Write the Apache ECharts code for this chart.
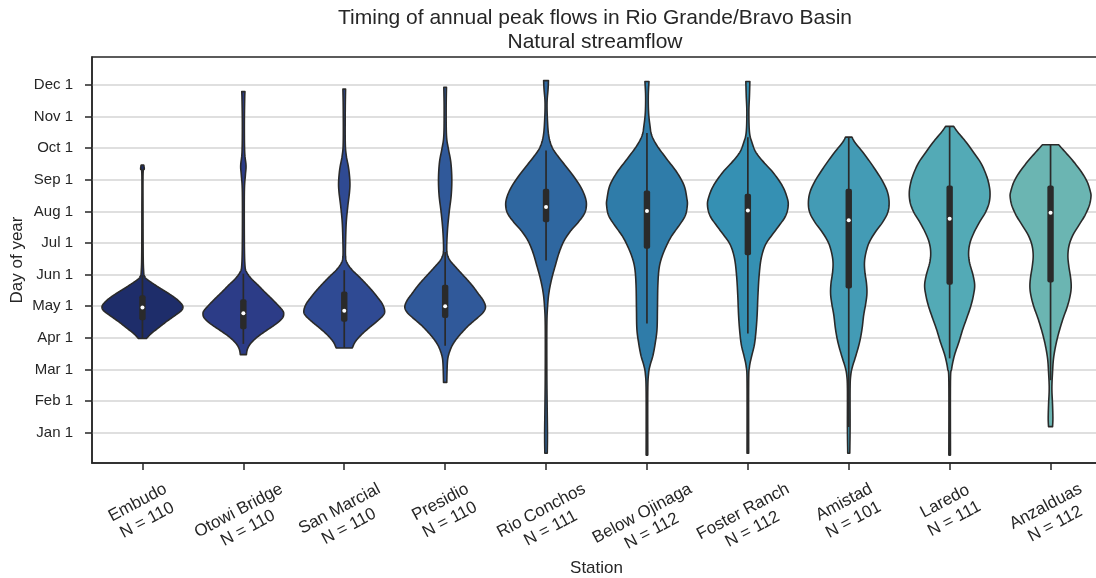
<!DOCTYPE html>
<html>
<head>
<meta charset="utf-8">
<script src="https://cdn.jsdelivr.net/npm/echarts@6/dist/echarts.min.js"></script>
<style>
html,body{margin:0;padding:0;background:#fff;}
#chart{width:1096px;height:578px;}
</style>
</head>
<body>
<div id="chart"></div>
<script>
// ---------------- data ----------------
const stations = ['Embudo','Otowi Bridge','San Marcial','Presidio','Rio Conchos','Below Ojinaga','Foster Ranch','Amistad','Laredo','Anzalduas'];
const counts = [110,110,110,110,111,112,112,101,111,112];
const monthLabels = ['Jan 1','Feb 1','Mar 1','Apr 1','May 1','Jun 1','Jul 1','Aug 1','Sep 1','Oct 1','Nov 1','Dec 1'];
const monthTicks = [0,1,2,3,4,5,6,7,8,9,10,11];

// violin outlines: [month position (Jan 1 = 0), relative half-width], top to bottom
const embudo = [[8.47,0.03],[8.34,0.045],[8.2,0.015],[7.0,0.014],[5.6,0.018],[5.1,0.03],[4.98,0.045],[4.89,0.08],[4.77,0.2],[4.61,0.39],[4.45,0.59],[4.29,0.78],[4.14,0.92],[4.0,1.0],[3.87,0.97],[3.72,0.82],[3.51,0.59],[3.29,0.37],[3.14,0.22],[2.98,0.1]];
const otowiBridge = [[10.79,0.04],[10.56,0.033],[9.72,0.025],[8.87,0.033],[8.45,0.066],[8.14,0.05],[7.61,0.025],[6.03,0.025],[5.29,0.04],[5.08,0.08],[4.87,0.2],[4.66,0.37],[4.45,0.53],[4.24,0.7],[4.03,0.86],[3.87,0.97],[3.77,1.0],[3.63,0.97],[3.45,0.82],[3.24,0.58],[3.03,0.35],[2.82,0.18],[2.64,0.1],[2.47,0.075]];
const sanMarcial = [[10.87,0.033],[10.24,0.025],[9.19,0.025],[8.77,0.05],[8.35,0.11],[7.93,0.14],[7.61,0.13],[7.19,0.09],[6.66,0.05],[6.03,0.033],[5.56,0.033],[5.35,0.08],[5.14,0.2],[4.93,0.37],[4.72,0.53],[4.51,0.68],[4.29,0.82],[4.08,0.94],[3.87,1.0],[3.72,0.97],[3.51,0.8],[3.29,0.59],[3.08,0.41],[2.87,0.27],[2.68,0.2]];
const presidio = [[10.93,0.033],[10.24,0.025],[9.4,0.033],[8.98,0.08],[8.56,0.14],[8.03,0.165],[7.51,0.15],[6.98,0.1],[6.45,0.06],[5.93,0.04],[5.66,0.05],[5.45,0.12],[5.24,0.26],[5.03,0.41],[4.82,0.56],[4.61,0.7],[4.4,0.82],[4.19,0.94],[3.98,1.0],[3.8,0.94],[3.61,0.78],[3.4,0.59],[3.19,0.43],[2.98,0.29],[2.77,0.18],[2.56,0.11],[2.35,0.066],[2.08,0.05],[1.59,0.04]];
const rioConchos = [[11.14,0.06],[10.87,0.05],[10.45,0.025],[9.93,0.033],[9.4,0.066],[9.03,0.15],[8.72,0.31],[8.4,0.51],[8.08,0.7],[7.77,0.86],[7.45,0.97],[7.19,1.0],[6.93,0.95],[6.66,0.8],[6.4,0.62],[6.08,0.45],[5.72,0.33],[5.29,0.23],[4.87,0.14],[4.45,0.074],[4.03,0.04],[3.4,0.02],[1.82,0.02],[0.77,0.028],[-0.07,0.035],[-0.65,0.03]];
const belowOjinaga = [[11.11,0.05],[10.66,0.033],[10.14,0.04],[9.72,0.074],[9.4,0.12],[9.08,0.25],[8.66,0.49],[8.24,0.74],[7.82,0.92],[7.4,0.99],[7.19,1.0],[6.87,0.95],[6.56,0.8],[6.24,0.62],[5.93,0.49],[5.56,0.37],[5.19,0.3],[4.66,0.27],[3.93,0.26],[3.29,0.25],[2.87,0.21],[2.45,0.15],[2.14,0.08],[1.87,0.04],[1.29,0.02],[-0.71,0.02]];
const fosterRanch = [[11.11,0.05],[10.66,0.04],[10.14,0.025],[9.51,0.04],[9.19,0.1],[8.87,0.2],[8.56,0.39],[8.24,0.62],[7.82,0.85],[7.45,0.97],[7.19,1.0],[6.87,0.94],[6.56,0.78],[6.24,0.59],[5.93,0.43],[5.51,0.33],[4.98,0.28],[4.35,0.25],[3.72,0.23],[3.19,0.2],[2.77,0.16],[2.4,0.09],[2.08,0.04],[1.61,0.02],[-0.65,0.02]];
const amistad = [[9.35,0.08],[9.19,0.15],[8.87,0.35],[8.56,0.53],[8.24,0.7],[7.93,0.85],[7.61,0.96],[7.29,1.0],[6.98,0.97],[6.66,0.84],[6.35,0.66],[6.03,0.51],[5.72,0.43],[5.4,0.39],[5.08,0.4],[4.72,0.44],[4.4,0.45],[4.08,0.42],[3.72,0.37],[3.29,0.33],[2.87,0.27],[2.45,0.18],[2.08,0.09],[1.82,0.05],[1.4,0.033],[0.14,0.033],[-0.65,0.025]];
const laredo = [[9.69,0.1],[9.51,0.2],[9.19,0.41],[8.87,0.59],[8.56,0.76],[8.24,0.88],[7.93,0.96],[7.61,1.0],[7.29,0.98],[6.98,0.89],[6.66,0.74],[6.35,0.61],[6.03,0.51],[5.72,0.47],[5.4,0.49],[4.98,0.58],[4.66,0.62],[4.35,0.59],[4.03,0.53],[3.72,0.45],[3.29,0.33],[2.87,0.23],[2.45,0.12],[2.03,0.05],[1.61,0.02],[-0.71,0.02]];
const anzalduas = [[9.11,0.2],[8.87,0.37],[8.56,0.58],[8.24,0.77],[7.93,0.91],[7.61,0.99],[7.45,1.0],[7.19,0.96],[6.87,0.85],[6.56,0.7],[6.24,0.55],[5.93,0.46],[5.61,0.43],[5.29,0.45],[4.87,0.5],[4.56,0.51],[4.24,0.47],[3.93,0.4],[3.61,0.31],[3.19,0.21],[2.77,0.13],[2.35,0.074],[1.93,0.05],[1.4,0.033],[0.87,0.05],[0.45,0.058],[0.19,0.05]];
const profiles = [embudo, otowiBridge, sanMarcial, presidio, rioConchos, belowOjinaga, fosterRanch, amistad, laredo, anzalduas];

// inner box statistics (month positions)
const whiskerLow  = [2.98,2.81,2.68,2.75,5.45,3.45,3.14,0.18,2.35,1.66];
const quart1      = [3.56,3.27,3.51,3.63,6.66,5.82,5.61,4.56,4.68,4.75];
const medians     = [3.96,3.78,3.86,4.00,7.14,7.01,7.03,6.72,6.77,6.96];
const quart3      = [4.35,4.22,4.47,4.68,7.72,7.66,7.56,7.72,7.82,7.82];
const whiskerHigh = [4.98,5.03,5.14,5.72,8.93,9.48,9.35,9.35,9.69,9.11];

// ---------------- styles ----------------
const palette = ['#1e2d6a','#2c3c87','#2f4a93','#30599a','#2f67a0','#2f7ca9','#3590b3','#439bb5','#53aab6','#6bb5b2'];
const FONT = '"Liberation Sans", Arial, Helvetica, sans-serif';
const INK = '#262626';
const OUTLINE = '#2a2a2a';
const Y_MIN = -0.96, Y_MAX = 11.886;
const LABEL_FS = 17, LABEL_LH = 20, LABEL_ROT = 28 * Math.PI / 180, LABEL_TOP_GAP = 16;

function catmull(pts, seg) {
  const out = [];
  for (let k = 0; k < pts.length - 1; k++) {
    const p0 = pts[Math.max(k - 1, 0)], p1 = pts[k], p2 = pts[k + 1], p3 = pts[Math.min(k + 2, pts.length - 1)];
    for (let s = 0; s < seg; s++) {
      const t = s / seg, t2 = t * t, t3 = t2 * t;
      out.push([0, 1].map(d => 0.5 * ((2 * p1[d]) + (-p0[d] + p2[d]) * t +
        (2 * p0[d] - 5 * p1[d] + 4 * p2[d] - p3[d]) * t2 +
        (-p0[d] + 3 * p1[d] - 3 * p2[d] + p3[d]) * t3)));
    }
  }
  out.push(pts[pts.length - 1].slice());
  return out;
}

function renderViolin(params, api) {
  const i = api.value(0);
  const band = api.size([1, 0])[0];
  const half = band * 0.4;
  const cx = api.coord([i, 0])[0];
  const raw = profiles[i].map(([v, w]) => [cx + w * half, api.coord([i, v])[1]]);
  const right = catmull(raw, 8).map(([x, y]) => [Math.max(x, cx + 0.3), y]);
  const left = right.map(([x, y]) => [2 * cx - x, y]).reverse();
  const yLo = api.coord([i, whiskerLow[i]])[1];
  const yHi = api.coord([i, whiskerHigh[i]])[1];
  const yQ1 = api.coord([i, quart1[i]])[1];
  const yQ3 = api.coord([i, quart3[i]])[1];
  const yMed = api.coord([i, medians[i]])[1];
  return {
    type: 'group',
    children: [
      { type: 'polygon', shape: { points: right.concat(left) },
        style: { fill: palette[i], stroke: OUTLINE, lineWidth: 1.6, lineJoin: 'round' } },
      { type: 'line', shape: { x1: cx, y1: yHi, x2: cx, y2: yLo },
        style: { stroke: OUTLINE, lineWidth: 1.7 } },
      { type: 'rect', shape: { x: cx - 3.2, y: yQ3, width: 6.4, height: yQ1 - yQ3, r: 2 },
        style: { fill: OUTLINE } },
      { type: 'circle', shape: { cx: cx, cy: yMed, r: 2 }, style: { fill: '#ffffff' } }
    ]
  };
}

const measureCtx = document.createElement('canvas').getContext('2d');
function renderXLabel(params, api) {
  const i = api.value(0);
  const x = api.coord([i, Y_MIN])[0];
  const yAxis = api.coord([i, Y_MIN])[1];
  const lines = [stations[i], 'N = ' + counts[i]];
  measureCtx.font = LABEL_FS + 'px ' + FONT;
  const w = Math.max.apply(null, lines.map(l => measureCtx.measureText(l).width));
  const h = lines.length * LABEL_LH;
  const H = w * Math.sin(LABEL_ROT) + h * Math.cos(LABEL_ROT);
  return {
    type: 'text', x: x, y: yAxis + LABEL_TOP_GAP + H / 2, rotation: LABEL_ROT,
    style: { text: lines.join('\n'), fill: INK, fontSize: LABEL_FS, fontFamily: FONT,
      lineHeight: LABEL_LH, align: 'center', verticalAlign: 'middle' }
  };
}

const chart = echarts.init(document.getElementById('chart'), null, { renderer: 'canvas' });
chart.setOption({
  animation: false,
  backgroundColor: '#ffffff',
  title: {
    text: 'Timing of annual peak flows in Rio Grande/Bravo Basin\nNatural streamflow',
    left: 595, top: 6, textAlign: 'center', padding: 0,
    textStyle: { fontFamily: FONT, fontSize: 21, fontWeight: 'normal', color: INK, lineHeight: 24 }
  },
  grid: { left: 92, right: -5, top: 57, bottom: 115, outerBoundsMode: 'none', containLabel: false,
    show: true, borderColor: INK, borderWidth: 1.5, backgroundColor: 'transparent' },
  xAxis: {
    type: 'category', data: stations, boundaryGap: true,
    axisLine: { show: true, onZero: false, lineStyle: { color: INK, width: 1.5 } },
    axisTick: { show: true, alignWithLabel: true, interval: 0, length: 7, lineStyle: { color: INK, width: 1.5 } },
    axisLabel: { show: false, interval: 0 },
    splitLine: { show: false },
    name: 'Station', nameLocation: 'middle', nameGap: 97, nameMoveOverlap: false,
    nameTextStyle: { fontFamily: FONT, fontSize: 17, color: INK }
  },
  yAxis: {
    type: 'value', min: Y_MIN, max: Y_MAX,
    axisLine: { show: true, onZero: false, lineStyle: { color: INK, width: 1.5 } },
    axisTick: { show: true, customValues: monthTicks, length: 7, lineStyle: { color: INK, width: 1.5 } },
    axisLabel: { customValues: monthTicks, formatter: v => monthLabels[Math.round(v)], margin: 19,
      fontFamily: FONT, fontSize: 15, color: INK },
    splitLine: { show: true, lineStyle: { color: '#d4d4d4', width: 1.5 } },
    name: 'Day of year', nameLocation: 'middle', nameGap: 66, nameRotate: 90, nameMoveOverlap: false,
    nameTextStyle: { fontFamily: FONT, fontSize: 17, color: INK }
  },
  series: [
    { type: 'custom', name: 'violins', renderItem: renderViolin, clip: false, silent: true,
      encode: { x: 0, y: 1 }, data: stations.map((s, i) => [i, medians[i]]), z: 3 },
    { type: 'custom', name: 'xlabels', renderItem: renderXLabel, clip: false, silent: true,
      encode: { x: 0, y: 1 }, data: stations.map((s, i) => [i, Y_MIN]), z: 4 }
  ]
});
</script>
</body>
</html>
